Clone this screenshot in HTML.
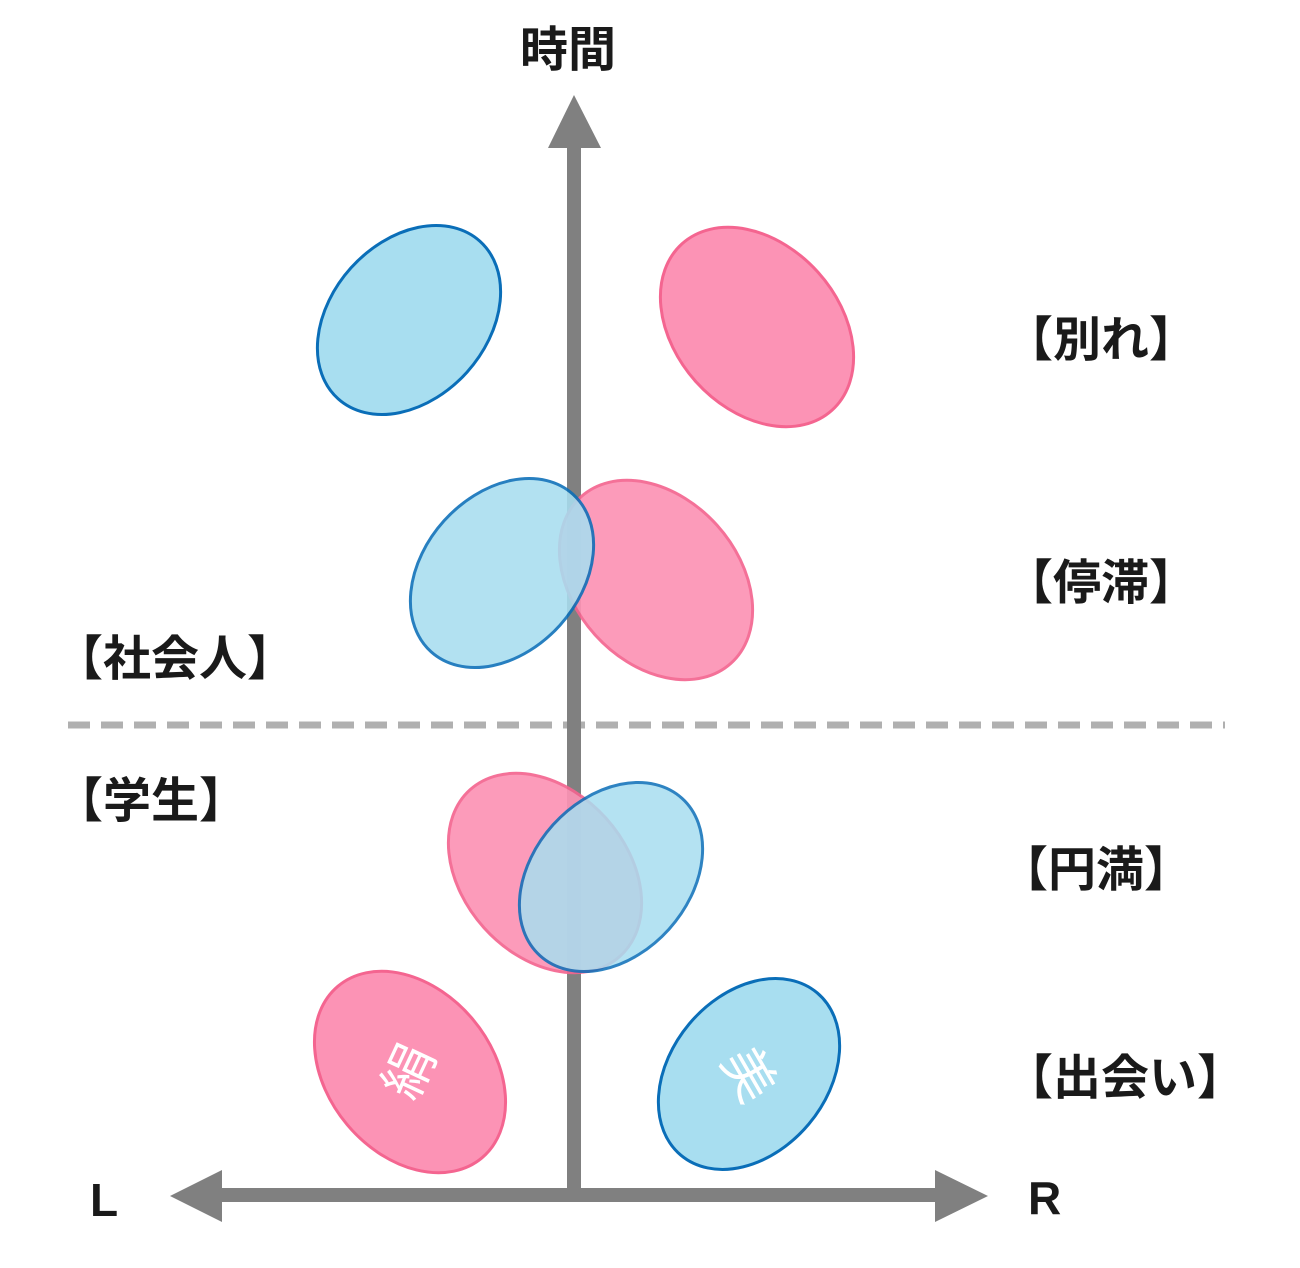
<!DOCTYPE html>
<html><head><meta charset="utf-8"><style>
html,body{margin:0;padding:0;background:#fff;}
svg{display:block;}
text{font-family:"Liberation Sans","Noto Sans CJK JP",sans-serif;font-weight:bold;fill:#1a1a1a;}
</style></head><body>
<svg width="1300" height="1268" viewBox="0 0 1300 1268" xmlns="http://www.w3.org/2000/svg">
<defs>
<g id="be"><ellipse rx="106" ry="78" fill="#a8def0" stroke="#0a6eb8" stroke-width="3"/></g>
<g id="pe"><ellipse rx="112" ry="82" fill="#fc93b5" stroke="#f46590" stroke-width="3"/></g>
</defs>
<line x1="68" y1="725" x2="1225" y2="725" stroke="#b0b0b0" stroke-width="7" stroke-dasharray="22,11"/>
<line x1="574" y1="140" x2="574" y2="1202" stroke="#808080" stroke-width="14"/>
<polygon points="574,95 548,148 601,148" fill="#808080"/>
<line x1="210" y1="1195" x2="945" y2="1195" stroke="#808080" stroke-width="14"/>
<polygon points="170,1196 222,1170 222,1222" fill="#808080"/>
<polygon points="988,1196 935,1170 935,1222" fill="#808080"/>
<use href="#be" transform="translate(409,320) rotate(-48)"/>
<use href="#pe" transform="translate(757,327) rotate(48)"/>
<g opacity="0.92"><use href="#pe" transform="translate(656,580) rotate(48)"/></g>
<g opacity="0.88"><use href="#be" transform="translate(502,573) rotate(-48)"/></g>
<g opacity="0.92"><use href="#pe" transform="translate(545,873) rotate(48)"/></g>
<g opacity="0.85"><use href="#be" transform="translate(611,877) rotate(-48)"/></g>
<use href="#pe" transform="translate(410,1072) rotate(50)"/>
<use href="#be" transform="translate(749,1074) rotate(-50)"/>
<text x="0" y="0" font-size="52" text-anchor="middle" dominant-baseline="central" style="fill:#fff;font-weight:normal" transform="translate(410,1072) rotate(-65)">絹</text>
<text x="0" y="0" font-size="52" text-anchor="middle" dominant-baseline="central" style="fill:#fff;font-weight:normal" transform="translate(748,1075) rotate(60)">美</text>
<text x="568" y="66" font-size="48" text-anchor="middle">時間</text>
<text x="1005" y="356" font-size="48">【別れ】</text>
<text x="1005" y="599" font-size="48">【停滞】</text>
<text x="1000" y="886" font-size="48">【円満】</text>
<text x="1005" y="1094" font-size="48">【出会い】</text>
<text x="55" y="675" font-size="48">【社会人】</text>
<text x="55" y="817" font-size="48">【学生】</text>
<text x="90" y="1216" font-size="46">L</text>
<text x="1028" y="1214" font-size="46">R</text>
</svg>
</body></html>
